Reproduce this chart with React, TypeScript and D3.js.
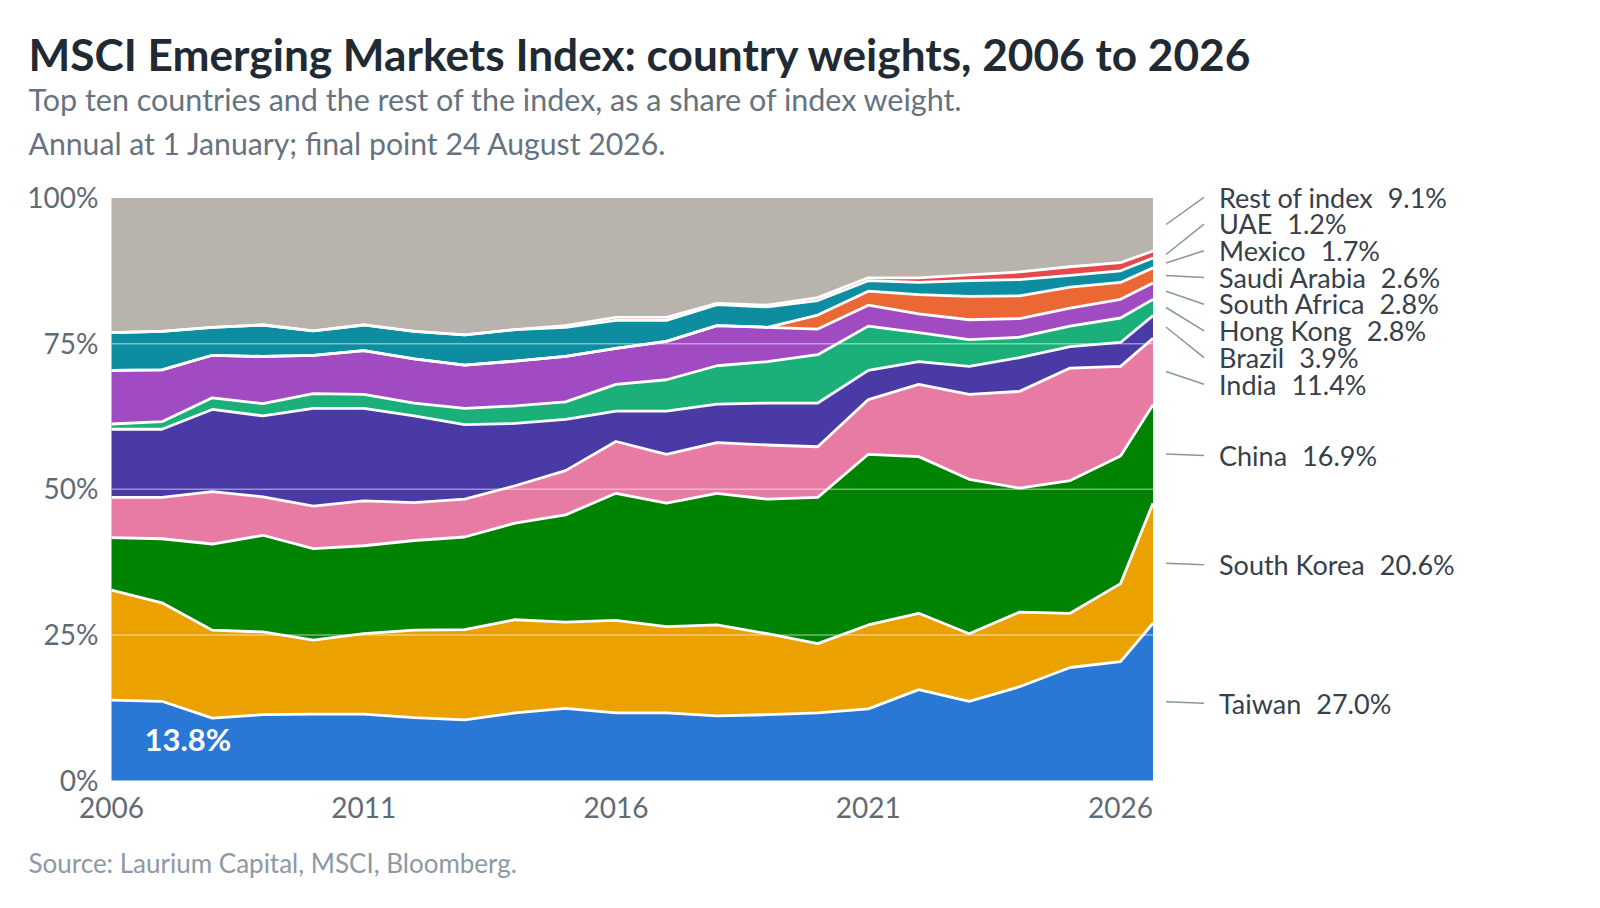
import React, { useEffect, useRef } from 'react';
import * as d3 from 'd3';

// Annual at 1 January, last point 24 August 2026
const DATES = [
  '2006-01-01', '2007-01-01', '2008-01-01', '2009-01-01', '2010-01-01', '2011-01-01',
  '2012-01-01', '2013-01-01', '2014-01-01', '2015-01-01', '2016-01-01', '2017-01-01',
  '2018-01-01', '2019-01-01', '2020-01-01', '2021-01-01', '2022-01-01', '2023-01-01',
  '2024-01-01', '2025-01-01', '2026-01-01', '2026-08-24',
];

// weights in % (stack order, bottom to top)
const TAIWAN = [13.8, 13.6, 10.7, 11.3, 11.4, 11.4, 10.8, 10.4, 11.6, 12.4, 11.6, 11.6, 11.1, 11.3, 11.6, 12.3, 15.6, 13.6, 16.1, 19.4, 20.4, 27.0];
const SOUTH_KOREA = [18.9, 16.9, 15.1, 14.2, 12.7, 13.8, 15.0, 15.5, 16.0, 14.8, 15.9, 14.8, 15.6, 13.9, 11.9, 14.4, 13.1, 11.6, 12.8, 9.3, 13.4, 20.6];
const CHINA = [9.0, 11.0, 14.8, 16.6, 15.7, 15.1, 15.4, 15.9, 16.6, 18.4, 21.8, 21.2, 22.6, 23.1, 25.1, 29.3, 26.9, 26.5, 21.3, 22.8, 21.9, 16.9];
const INDIA = [6.9, 7.1, 9.0, 6.6, 7.3, 7.7, 6.5, 6.5, 6.4, 7.6, 8.9, 8.4, 8.7, 9.3, 8.7, 9.4, 12.4, 14.6, 16.6, 19.3, 15.4, 11.4];
const BRAZIL = [11.7, 11.7, 14.1, 13.9, 16.8, 15.9, 14.9, 12.8, 10.7, 8.8, 5.2, 7.4, 6.6, 7.2, 7.5, 5.0, 3.9, 4.8, 5.8, 3.7, 4.1, 3.9];
const HONG_KONG = [0.9, 1.3, 2.0, 2.1, 2.5, 2.4, 2.2, 2.8, 3.0, 3.0, 4.6, 5.4, 6.6, 7.1, 8.3, 7.6, 5.0, 4.6, 3.5, 3.5, 4.2, 2.8];
const SOUTH_AFRICA = [9.2, 8.9, 7.3, 8.1, 6.6, 7.5, 7.6, 7.4, 7.7, 7.8, 6.2, 6.6, 6.9, 5.9, 4.4, 3.6, 3.2, 3.4, 3.2, 3.1, 3.2, 2.8];
const SAUDI_ARABIA = [0, 0, 0, 0, 0, 0, 0, 0, 0, 0, 0, 0, 0, 0, 2.4, 2.4, 3.3, 4.0, 3.9, 3.6, 2.9, 2.6];
const MEXICO = [6.5, 6.6, 4.8, 5.4, 4.2, 4.4, 4.7, 5.2, 5.4, 5.0, 4.8, 3.6, 3.6, 3.5, 2.5, 1.8, 2.1, 2.7, 2.8, 2.0, 2.0, 1.7];
const UAE = [0, 0, 0, 0, 0, 0, 0, 0, 0, 0.3, 0.5, 0.5, 0.2, 0.3, 0.5, 0.5, 0.8, 1.0, 1.3, 1.5, 1.4, 1.2];
const REST = [23.1, 22.9, 22.2, 21.8, 22.8, 21.8, 22.9, 23.5, 22.6, 21.9, 20.5, 20.5, 18.1, 18.4, 17.1, 13.7, 13.7, 13.2, 12.7, 11.8, 11.1, 9.1];

const SERIES = [
  { name: 'Taiwan', color: '#2a78d6', values: TAIWAN },
  { name: 'South Korea', color: '#eba100', values: SOUTH_KOREA },
  { name: 'China', color: '#008300', values: CHINA },
  { name: 'India', color: '#e87ba4', values: INDIA },
  { name: 'Brazil', color: '#4a3aa6', values: BRAZIL },
  { name: 'Hong Kong', color: '#1baf7a', values: HONG_KONG },
  { name: 'South Africa', color: '#a04bc2', values: SOUTH_AFRICA },
  { name: 'Saudi Arabia', color: '#eb6834', values: SAUDI_ARABIA },
  { name: 'Mexico', color: '#0f8da0', values: MEXICO },
  { name: 'UAE', color: '#e5484d', values: UAE },
  { name: 'Rest of index', color: '#b8b4ad', values: REST },
];

const Y_TICKS = [0, 25, 50, 75, 100];
const X_TICKS = [2006, 2011, 2016, 2021, 2026];

const TITLE = 'MSCI Emerging Markets Index: country weights, 2006 to 2026';
const SUBTITLE_1 = 'Top ten countries and the rest of the index, as a share of index weight.';
const SUBTITLE_2 = 'Annual at 1 January; final point 24 August 2026.';
const SOURCE = 'Source: Laurium Capital, MSCI, Bloomberg.';

const FONT = 'Lato, "Noto Sans", sans-serif';

const App: React.FC = () => {
  const ref = useRef<SVGSVGElement | null>(null);

  useEffect(() => {
    document.body.style.margin = '0';
    document.body.style.overflow = 'hidden';

    const W = 1600;
    const H = 908;
    const left = 111.5;
    const right = 1153;
    const top = 198;
    const bottom = 780.5;

    const svg = d3.select(ref.current);
    svg.selectAll('*').remove();
    svg.attr('width', W).attr('height', H).style('font-family', FONT);

    const parse = d3.timeParse('%Y-%m-%d');
    const dates = DATES.map(d => parse(d) as Date);
    const rows = dates.map((date, i) => {
      const row: any = { date };
      SERIES.forEach(s => { row[s.name] = s.values[i]; });
      return row;
    });

    const x = d3.scaleTime()
      .domain(d3.extent(dates) as [Date, Date])
      .range([left, right]);
    const y = d3.scaleLinear().domain([0, 100]).range([bottom, top]);

    const stacked = d3.stack<any>()
      .keys(SERIES.map(s => s.name))
      .order(d3.stackOrderNone)
      .offset(d3.stackOffsetNone)(rows);

    // Areas
    const area = d3.area<any>()
      .x(d => x(d.data.date))
      .y0(d => y(d[0]))
      .y1(d => y(d[1]));

    svg.append('g')
      .selectAll('path')
      .data(stacked)
      .enter()
      .append('path')
      .attr('fill', (_, i) => SERIES[i].color)
      .attr('d', area);

    // White separators on the top edge of each band
    const line = d3.line<any>()
      .x(d => x(d.data.date))
      .y(d => y(d[1]));

    svg.append('g')
      .selectAll('path')
      .data(stacked.slice(0, stacked.length - 1))
      .enter()
      .append('path')
      .attr('fill', 'none')
      .attr('stroke', '#ffffff')
      .attr('stroke-width', 2.8)
      .attr('stroke-linejoin', 'round')
      .attr('d', line);

    // Gridlines drawn over the areas
    svg.append('g')
      .selectAll('line')
      .data(Y_TICKS.filter(t => t > 0 && t < 100))
      .enter()
      .append('line')
      .attr('x1', left)
      .attr('x2', right)
      .attr('y1', d => y(d))
      .attr('y2', d => y(d))
      .attr('stroke', '#ffffff')
      .attr('stroke-opacity', 0.45)
      .attr('stroke-width', 1.5);

    // Y axis labels
    svg.append('g')
      .selectAll('text')
      .data(Y_TICKS)
      .enter()
      .append('text')
      .attr('x', left - 13)
      .attr('y', d => y(d))
      .attr('dy', '0.36em')
      .attr('text-anchor', 'end')
      .attr('fill', '#5f6b76')
      .attr('font-size', 28)
      .text(d => `${d}%`);

    // X axis labels
    svg.append('g')
      .selectAll('text')
      .data(X_TICKS)
      .enter()
      .append('text')
      .attr('x', d => x(new Date(d, 0, 1)))
      .attr('y', 818)
      .attr('text-anchor', 'middle')
      .attr('fill', '#5f6b76')
      .attr('font-size', 28)
      .text(d => String(d));

    // Starting value for Taiwan
    const first = stacked[0][0];
    svg.append('text')
      .attr('x', x(first.data.date) + 33)
      .attr('y', y((first[0] + first[1]) / 2))
      .attr('dy', '0.36em')
      .attr('fill', '#ffffff')
      .attr('font-size', 31)
      .attr('font-weight', 700)
      .text(`${TAIWAN[0].toFixed(1)}%`);

    // End labels with de-overlap
    const last = dates.length - 1;
    const gap = 26.7;
    const labels = stacked.map((layer, i) => ({
      name: SERIES[i].name,
      value: SERIES[i].values[last],
      ideal: y((layer[last][0] + layer[last][1]) / 2),
      pos: 0,
    })).sort((a, b) => a.ideal - b.ideal);

    const clusters = labels.map(l => ({ items: [l], top: l.ideal }));
    let merged = true;
    while (merged) {
      merged = false;
      for (let i = 1; i < clusters.length; i++) {
        const prev = clusters[i - 1];
        const cur = clusters[i];
        if (prev.top + prev.items.length * gap > cur.top) {
          const items = prev.items.concat(cur.items);
          const mean = d3.mean(items, d => d.ideal) as number;
          clusters.splice(i - 1, 2, { items, top: mean - (items.length - 1) * gap / 2 });
          merged = true;
          break;
        }
      }
    }
    clusters.forEach(c => c.items.forEach((l, k) => { l.pos = c.top + k * gap + 1.5; }));

    const lg = svg.append('g');
    labels.forEach(l => {
      lg.append('line')
        .attr('x1', right + 13)
        .attr('x2', right + 51)
        .attr('y1', l.ideal)
        .attr('y2', l.pos)
        .attr('stroke', '#8796a3')
        .attr('stroke-width', 1.5);
      const t = lg.append('text')
        .attr('x', right + 66)
        .attr('y', l.pos)
        .attr('dy', '0.38em')
        .attr('fill', '#36404a')
        .attr('font-size', 27)
        .text(l.name);
      t.append('tspan')
        .attr('dx', 15)
        .text(`${l.value.toFixed(1)}%`);
    });

    // Titles
    svg.append('text')
      .attr('x', 28.5)
      .attr('y', 71)
      .attr('fill', '#1f2a33')
      .attr('font-size', 44.2)
      .attr('font-weight', 700)
      .text(TITLE);

    svg.append('text')
      .attr('x', 28.5)
      .attr('y', 111)
      .attr('fill', '#66737f')
      .attr('font-size', 30.5)
      .text(SUBTITLE_1);

    svg.append('text')
      .attr('x', 28.5)
      .attr('y', 155)
      .attr('fill', '#66737f')
      .attr('font-size', 30.2)
      .text(SUBTITLE_2);

    svg.append('text')
      .attr('x', 28.5)
      .attr('y', 873)
      .attr('fill', '#8c99a5')
      .attr('font-size', 26)
      .text(SOURCE);
  }, []);

  return <svg ref={ref} style={{ display: 'block', background: '#ffffff' }} />;
};

export default App;
